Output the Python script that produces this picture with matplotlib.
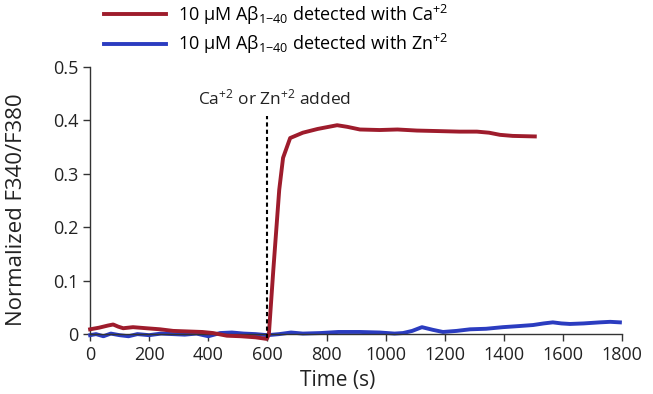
import numpy as np
import matplotlib
matplotlib.use("Agg")
import matplotlib.pyplot as plt
from matplotlib.ticker import FuncFormatter

# ============================================================
# 数据
# ============================================================

ca_time = [0, 30, 60, 78, 95, 112, 145, 190, 237, 281, 330, 380, 416, 463, 510,
           560, 598, 605, 620, 640, 653, 677, 720, 770, 836, 870, 913, 980,
           1040, 1106, 1180, 1250, 1309, 1350, 1387, 1430, 1505]
ca_value = [0.009, 0.012, 0.016, 0.018, 0.014, 0.011, 0.013, 0.011, 0.009, 0.006,
            0.005, 0.004, 0.002, -0.003, -0.004, -0.006, -0.009, 0.0, 0.12, 0.27,
            0.33, 0.367, 0.377, 0.384, 0.391, 0.388, 0.383, 0.382,
            0.383, 0.381, 0.380, 0.379, 0.379, 0.377, 0.373, 0.371, 0.370]

zn_time = [0, 20, 45, 70, 100, 130, 160, 200, 240, 280, 320, 360, 400, 440,
           480, 520, 560, 600, 640, 680, 720, 780, 840, 913, 980, 1030, 1059,
           1090, 1123, 1160, 1194, 1240, 1286, 1340, 1397, 1450, 1499, 1535,
           1566, 1595, 1624, 1670, 1725, 1760, 1793]
zn_value = [-0.002, 0.0, -0.004, 0.001, -0.002, -0.004, 0.0, -0.002, 0.001, 0.0,
            -0.001, 0.001, -0.004, 0.002, 0.003, 0.001, 0.0, -0.002, 0.0, 0.003,
            0.001, 0.002, 0.004, 0.004, 0.003, 0.001, 0.002, 0.006, 0.013, 0.008,
            0.004, 0.006, 0.009, 0.010, 0.013, 0.015, 0.017, 0.020,
            0.022, 0.020, 0.019, 0.020, 0.022, 0.023, 0.022]

ADD_TIME = 600

RED = "#9e1c2c"
BLUE = "#2b3cc0"

# ============================================================
# 画图
# ============================================================

plt.rcParams["font.family"] = ["Open Sans", "DejaVu Sans"]
plt.rcParams["mathtext.fontset"] = "custom"
plt.rcParams["mathtext.rm"] = "Open Sans"
plt.rcParams["mathtext.it"] = "Open Sans:italic"

fig = plt.figure(figsize=(6.53, 3.94), dpi=100)
ax = fig.add_axes([0.138, 0.152, 0.8145, 0.678])

ax.plot(ca_time, ca_value, color=RED, linewidth=2.8, clip_on=False,
        label=r"10 μM Aβ$_{1\mathrm{-}40}$ detected with Ca$^{+2}$", zorder=3)
ax.plot(zn_time, zn_value, color=BLUE, linewidth=2.8, clip_on=False,
        label=r"10 μM Aβ$_{1\mathrm{-}40}$ detected with Zn$^{+2}$", zorder=2)

ax.plot([ADD_TIME, ADD_TIME], [-0.008, 0.408], color="black", linestyle=(0, (2, 1.5)),
        linewidth=1.5, clip_on=False, zorder=4)
ax.text(626, 0.423, r"Ca$^{+2}$ or Zn$^{+2}$ added", ha="center",
        va="bottom", fontsize=12.5, color="#222222")

ax.set_xlim(0, 1800)
ax.set_ylim(0, 0.5)
ax.set_xticks(np.arange(0, 1801, 200))
ax.set_yticks(np.arange(0, 0.51, 0.1))
ax.yaxis.set_major_formatter(FuncFormatter(lambda v, p: "0" if abs(v) < 1e-9 else f"{v:.1f}"))

for s in ["top", "right"]:
    ax.spines[s].set_visible(False)
for s in ["left", "bottom"]:
    ax.spines[s].set_color("#333333")
    ax.spines[s].set_linewidth(1.0)

ax.tick_params(direction="out", length=5, width=1.0, color="#333333",
               labelsize=13, labelcolor="#222222")

ax.set_xlabel("Time (s)", fontsize=15, color="#222222")
ax.xaxis.set_label_coords(0.466, -0.133)
ax.set_ylabel("Normalized F340/F380", fontsize=16, color="#222222")
ax.yaxis.set_label_coords(-0.118, 0.464)

fig.legend(loc="upper left", bbox_to_anchor=(0.135, 1.035), frameon=False,
           fontsize=13, handlelength=3.4, handletextpad=0.7, labelspacing=0.3)

fig.savefig("out.png", dpi=100)
